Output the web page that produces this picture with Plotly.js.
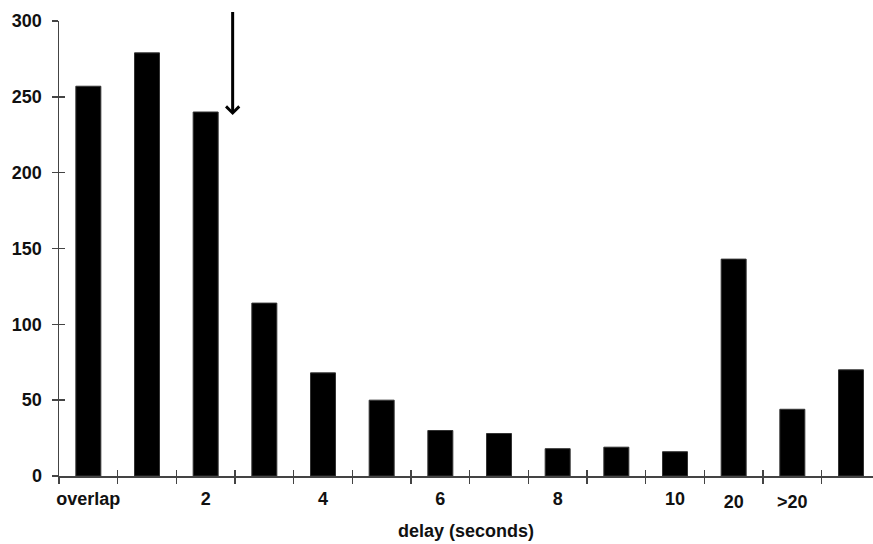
<!DOCTYPE html>
<html><head><meta charset="utf-8">
<script src="https://cdn.plot.ly/plotly-3.0.1.min.js"></script>
<style>html,body{margin:0;padding:0;background:#fff}</style>
</head><body><div id="chart" style="width:873px;height:544px"></div>
<script>
// Data
const binIndex = [0,1,2,3,4,5,6,7,8,9,10,11,12,13];
const counts = [257,279,240,114,68,50,30,28,18,19,16,143,44,70];
const labelIndex = [0,2,4,6,8,10];
const labelText = ["overlap","2","4","6","8","10"];
const lowLabelIndex = [11,12];
const lowLabelText = ["20",">20"];
const binBoundaries = [-0.5,0.5,1.5,2.5,3.5,4.5,5.5,6.5,7.5,8.5,9.5,10.5,11.5,12.5];
const yTicks = [0,50,100,150,200,250,300];
const arrowX = 2.46, arrowTipY = 238, arrowTailY = 307;

const lineCol = '#444';
const fnt = {family:'"Liberation Sans", Arial, sans-serif', size:18, color:'#111', weight:'bold'};
const xr = [-0.5, 13.375];
const yr = [0, 300];

const trace = {
  type:'bar', x: binIndex, y: counts,
  marker:{color:'#000', line:{color:'#333', width:1}},
  hoverinfo:'skip'
};

const baseX = {range: xr, showgrid:false, zeroline:false, fixedrange:true};
const baseY = {range: yr, showgrid:false, zeroline:false, fixedrange:true};

const layout = {
  width:873, height:544,
  margin:{l:59, r:0, t:21, b:68},
  paper_bgcolor:'#fff', plot_bgcolor:'#fff',
  bargap:0.574,
  showlegend:false,
  font: fnt,
  xaxis: Object.assign({}, baseX, {
    tickmode:'array', tickvals: binBoundaries, ticks:'outside', ticklen:6, tickwidth:1.5, tickcolor:lineCol,
    showline:true, linecolor:lineCol, linewidth:1.5, showticklabels:false
  }),
  xaxis2: Object.assign({}, baseX, {
    overlaying:'x', anchor:'y', tickmode:'array', tickvals: binBoundaries, ticks:'inside', ticklen:6, tickwidth:1.5, tickcolor:lineCol,
    showline:false, showticklabels:false
  }),
  xaxis3: Object.assign({}, baseX, {
    overlaying:'x', anchor:'y', tickmode:'array', tickvals: labelIndex, ticktext: labelText, ticks:'',
    showline:false, tickfont:fnt, ticklabelstandoff:10,
    title:{text:'delay (seconds)', font:fnt, standoff:16}
  }),
  xaxis4: Object.assign({}, baseX, {
    overlaying:'x', anchor:'y', tickmode:'array', tickvals: lowLabelIndex, ticktext: lowLabelText, ticks:'',
    showline:false, tickfont:fnt, ticklabelstandoff:13
  }),
  yaxis: Object.assign({}, baseY, {
    tickmode:'array', tickvals: yTicks, ticks:'outside', ticklen:6, tickwidth:1.5, tickcolor:lineCol,
    showline:true, linecolor:lineCol, linewidth:1.5, tickfont:fnt, ticklabelstandoff:6
  }),
  yaxis2: Object.assign({}, baseY, {
    overlaying:'y', anchor:'x', tickmode:'array', tickvals: yTicks, ticks:'inside', ticklen:6, tickwidth:1.5, tickcolor:lineCol,
    showline:false, showticklabels:false
  }),
  annotations:[{
    x: arrowX, y: arrowTipY, ax: arrowX, ay: arrowTailY, xref:'x', yref:'y', axref:'x', ayref:'y',
    text:'', showarrow:true, arrowhead:4, arrowwidth:3, arrowsize:0.85, arrowcolor:'#000'
  }]
};

const ghost = [
  {type:'scatter', x:[0], y:[0], xaxis:'x2', yaxis:'y', mode:'markers', marker:{opacity:0}, hoverinfo:'skip'},
  {type:'scatter', x:[0], y:[0], xaxis:'x3', yaxis:'y', mode:'markers', marker:{opacity:0}, hoverinfo:'skip'},
  {type:'scatter', x:[0], y:[0], xaxis:'x4', yaxis:'y', mode:'markers', marker:{opacity:0}, hoverinfo:'skip'},
  {type:'scatter', x:[0], y:[0], xaxis:'x', yaxis:'y2', mode:'markers', marker:{opacity:0}, hoverinfo:'skip'}
];

Plotly.newPlot('chart', [trace].concat(ghost), layout, {displayModeBar:false, staticPlot:true});
</script>
</body></html>
